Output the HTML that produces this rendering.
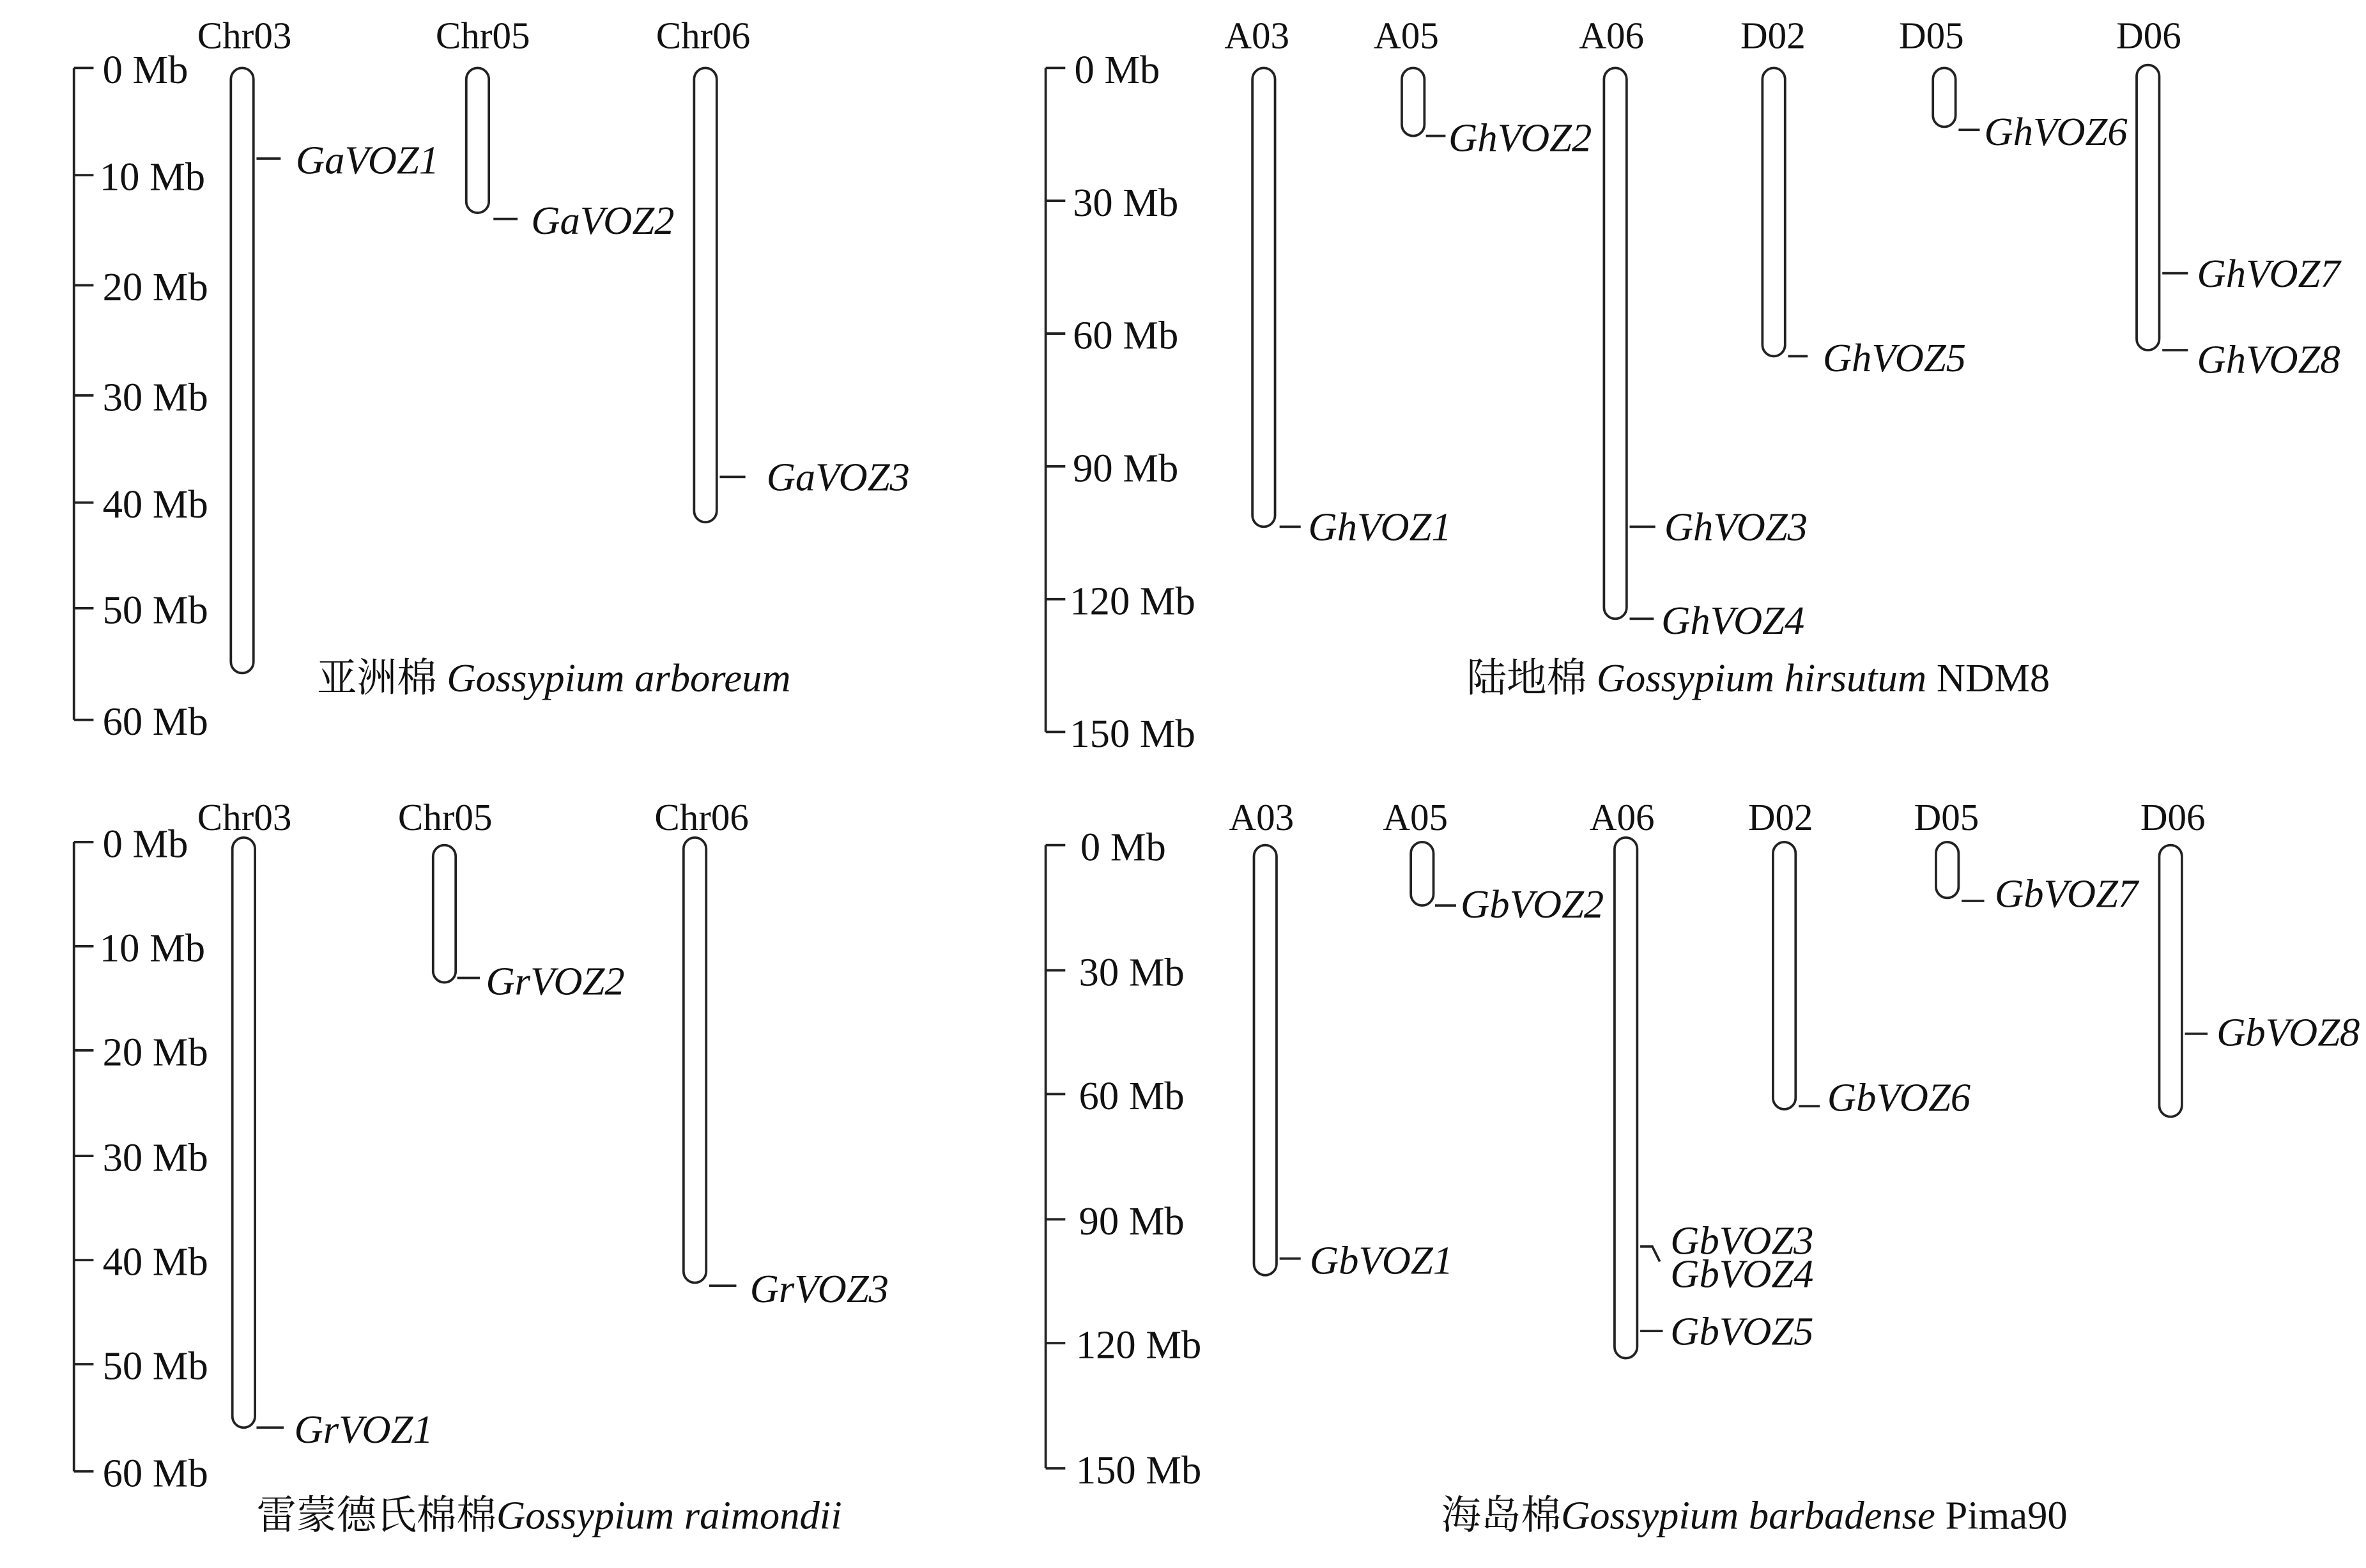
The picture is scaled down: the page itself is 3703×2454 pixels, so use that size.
<!DOCTYPE html>
<html><head><meta charset="utf-8"><style>
html,body{margin:0;padding:0;background:#fff;}
svg{display:block;}
text{font-family:"Liberation Serif","Noto Serif CJK SC","Noto Sans CJK SC",serif;fill:#111;}
.t{font-size:26.5px;}
.c{font-size:25px;text-anchor:middle;}
.g{font-size:26.5px;font-style:italic;}
.ti{font-size:26.5px;}
line,path,rect{stroke:#222;stroke-width:1.6;fill:none;}
</style></head><body>
<svg width="3703" height="2454" viewBox="0 0 1568 1039" xmlns="http://www.w3.org/2000/svg">
<!-- Panel 1 -->
<line x1="49" y1="45" x2="49" y2="477"/>
<g>
<line x1="49" y1="45" x2="62" y2="45"/><text class="t" x="68" y="55">0 Mb</text>
<line x1="49" y1="116" x2="62" y2="116"/><text class="t" x="66" y="126">10 Mb</text>
<line x1="49" y1="189" x2="62" y2="189"/><text class="t" x="68" y="199">20 Mb</text>
<line x1="49" y1="262" x2="62" y2="262"/><text class="t" x="68" y="272">30 Mb</text>
<line x1="49" y1="333" x2="62" y2="333"/><text class="t" x="68" y="343">40 Mb</text>
<line x1="49" y1="403" x2="62" y2="403"/><text class="t" x="68" y="413">50 Mb</text>
<line x1="49" y1="477" x2="62" y2="477"/><text class="t" x="68" y="487">60 Mb</text>
</g>
<text class="c" x="162" y="32">Chr03</text><text class="c" x="320" y="32">Chr05</text><text class="c" x="466" y="32">Chr06</text>
<rect x="153" y="45" width="15" height="401" rx="7.5"/>
<rect x="309" y="45" width="15" height="96" rx="7.5"/>
<rect x="460" y="45" width="15" height="301" rx="7.5"/>
<line x1="170" y1="105" x2="186" y2="105"/><text class="g" x="196" y="115">GaVOZ1</text>
<line x1="327" y1="145" x2="343" y2="145"/><text class="g" x="352" y="155">GaVOZ2</text>
<line x1="477" y1="316" x2="494" y2="316"/><text class="g" x="508" y="325">GaVOZ3</text>
<text class="ti" x="210" y="458">亚洲棉 <tspan font-style="italic">Gossypium arboreum</tspan></text>

<!-- Panel 2 -->
<line x1="693" y1="45" x2="693" y2="485"/>
<line x1="693" y1="45" x2="706" y2="45"/><text class="t" x="712" y="55">0 Mb</text>
<line x1="693" y1="133" x2="706" y2="133"/><text class="t" x="711" y="143">30 Mb</text>
<line x1="693" y1="221" x2="706" y2="221"/><text class="t" x="711" y="231">60 Mb</text>
<line x1="693" y1="309" x2="706" y2="309"/><text class="t" x="711" y="319">90 Mb</text>
<line x1="693" y1="397" x2="706" y2="397"/><text class="t" x="709" y="407">120 Mb</text>
<line x1="693" y1="485" x2="706" y2="485"/><text class="t" x="709" y="495">150 Mb</text>
<text class="c" x="833" y="32">A03</text><text class="c" x="932" y="32">A05</text><text class="c" x="1068" y="32">A06</text>
<text class="c" x="1175" y="32">D02</text><text class="c" x="1280" y="32">D05</text><text class="c" x="1424" y="32">D06</text>
<rect x="830" y="45" width="15" height="304" rx="7.5"/>
<rect x="929" y="45" width="15" height="45" rx="7.5"/>
<rect x="1063" y="45" width="15" height="365" rx="7.5"/>
<rect x="1168" y="45" width="15" height="191" rx="7.5"/>
<rect x="1281" y="45" width="15" height="39" rx="7.5"/>
<rect x="1416" y="43" width="15" height="189" rx="7.5"/>
<line x1="848" y1="349" x2="862" y2="349"/><text class="g" x="867" y="358">GhVOZ1</text>
<line x1="945" y1="90" x2="958" y2="90"/><text class="g" x="960" y="100">GhVOZ2</text>
<line x1="1080" y1="349" x2="1097" y2="349"/><text class="g" x="1103" y="358">GhVOZ3</text>
<line x1="1080" y1="410" x2="1096" y2="410"/><text class="g" x="1101" y="420">GhVOZ4</text>
<line x1="1185" y1="236" x2="1198" y2="236"/><text class="g" x="1208" y="246">GhVOZ5</text>
<line x1="1298" y1="86" x2="1312" y2="86"/><text class="g" x="1315" y="96">GhVOZ6</text>
<line x1="1433" y1="181" x2="1450" y2="181"/><text class="g" x="1456" y="190">GhVOZ7</text>
<line x1="1433" y1="232" x2="1450" y2="232"/><text class="g" x="1456" y="247">GhVOZ8</text>
<text class="ti" x="972" y="458">陆地棉 <tspan font-style="italic">Gossypium hirsutum</tspan> NDM8</text>

<!-- Panel 3 -->
<line x1="49" y1="558" x2="49" y2="975"/>
<line x1="49" y1="558" x2="62" y2="558"/><text class="t" x="68" y="568">0 Mb</text>
<line x1="49" y1="627" x2="62" y2="627"/><text class="t" x="66" y="637">10 Mb</text>
<line x1="49" y1="696" x2="62" y2="696"/><text class="t" x="68" y="706">20 Mb</text>
<line x1="49" y1="766" x2="62" y2="766"/><text class="t" x="68" y="776">30 Mb</text>
<line x1="49" y1="835" x2="62" y2="835"/><text class="t" x="68" y="845">40 Mb</text>
<line x1="49" y1="904" x2="62" y2="904"/><text class="t" x="68" y="914">50 Mb</text>
<line x1="49" y1="975" x2="62" y2="975"/><text class="t" x="68" y="985">60 Mb</text>
<text class="c" x="162" y="550">Chr03</text><text class="c" x="295" y="550">Chr05</text><text class="c" x="465" y="550">Chr06</text>
<rect x="154" y="555" width="15" height="391" rx="7.5"/>
<rect x="287" y="560" width="15" height="91" rx="7.5"/>
<rect x="453" y="555" width="15" height="295" rx="7.5"/>
<line x1="303" y1="648" x2="318" y2="648"/><text class="g" x="322" y="659">GrVOZ2</text>
<line x1="470" y1="852" x2="488" y2="852"/><text class="g" x="497" y="863">GrVOZ3</text>
<line x1="170" y1="946" x2="188" y2="946"/><text class="g" x="195" y="956">GrVOZ1</text>
<text class="ti" x="170" y="1013">雷蒙德氏棉棉<tspan font-style="italic">Gossypium raimondii</tspan></text>

<!-- Panel 4 -->
<line x1="693" y1="560" x2="693" y2="973"/>
<line x1="693" y1="560" x2="706" y2="560"/><text class="t" x="716" y="570">0 Mb</text>
<line x1="693" y1="643" x2="706" y2="643"/><text class="t" x="715" y="653">30 Mb</text>
<line x1="693" y1="725" x2="706" y2="725"/><text class="t" x="715" y="735">60 Mb</text>
<line x1="693" y1="808" x2="706" y2="808"/><text class="t" x="715" y="818">90 Mb</text>
<line x1="693" y1="890" x2="706" y2="890"/><text class="t" x="713" y="900">120 Mb</text>
<line x1="693" y1="973" x2="706" y2="973"/><text class="t" x="713" y="983">150 Mb</text>
<text class="c" x="836" y="550">A03</text><text class="c" x="938" y="550">A05</text><text class="c" x="1075" y="550">A06</text>
<text class="c" x="1180" y="550">D02</text><text class="c" x="1290" y="550">D05</text><text class="c" x="1440" y="550">D06</text>
<rect x="831" y="560" width="15" height="285" rx="7.5"/>
<rect x="935" y="558" width="15" height="42" rx="7.5"/>
<rect x="1070" y="555" width="15" height="345" rx="7.5"/>
<rect x="1175" y="558" width="15" height="177" rx="7.5"/>
<rect x="1283" y="558" width="15" height="37" rx="7.5"/>
<rect x="1431" y="560" width="15" height="180" rx="7.5"/>
<line x1="848" y1="834" x2="862" y2="834"/><text class="g" x="868" y="844">GbVOZ1</text>
<line x1="951" y1="600" x2="965" y2="600"/><text class="g" x="968" y="608">GbVOZ2</text>
<path d="M1087 826 H1095 L1100 836"/><text class="g" x="1107" y="831">GbVOZ3</text>
<text class="g" x="1107" y="853">GbVOZ4</text>
<line x1="1087" y1="882" x2="1102" y2="882"/><text class="g" x="1107" y="891">GbVOZ5</text>
<line x1="1192" y1="733" x2="1206" y2="733"/><text class="g" x="1211" y="736">GbVOZ6</text>
<line x1="1300" y1="597" x2="1315" y2="597"/><text class="g" x="1322" y="601">GbVOZ7</text>
<line x1="1448" y1="685" x2="1463" y2="685"/><text class="g" x="1469" y="693">GbVOZ8</text>
<text class="ti" x="955" y="1013">海岛棉<tspan font-style="italic">Gossypium barbadense</tspan> Pima90</text>
</svg>
</body></html>
